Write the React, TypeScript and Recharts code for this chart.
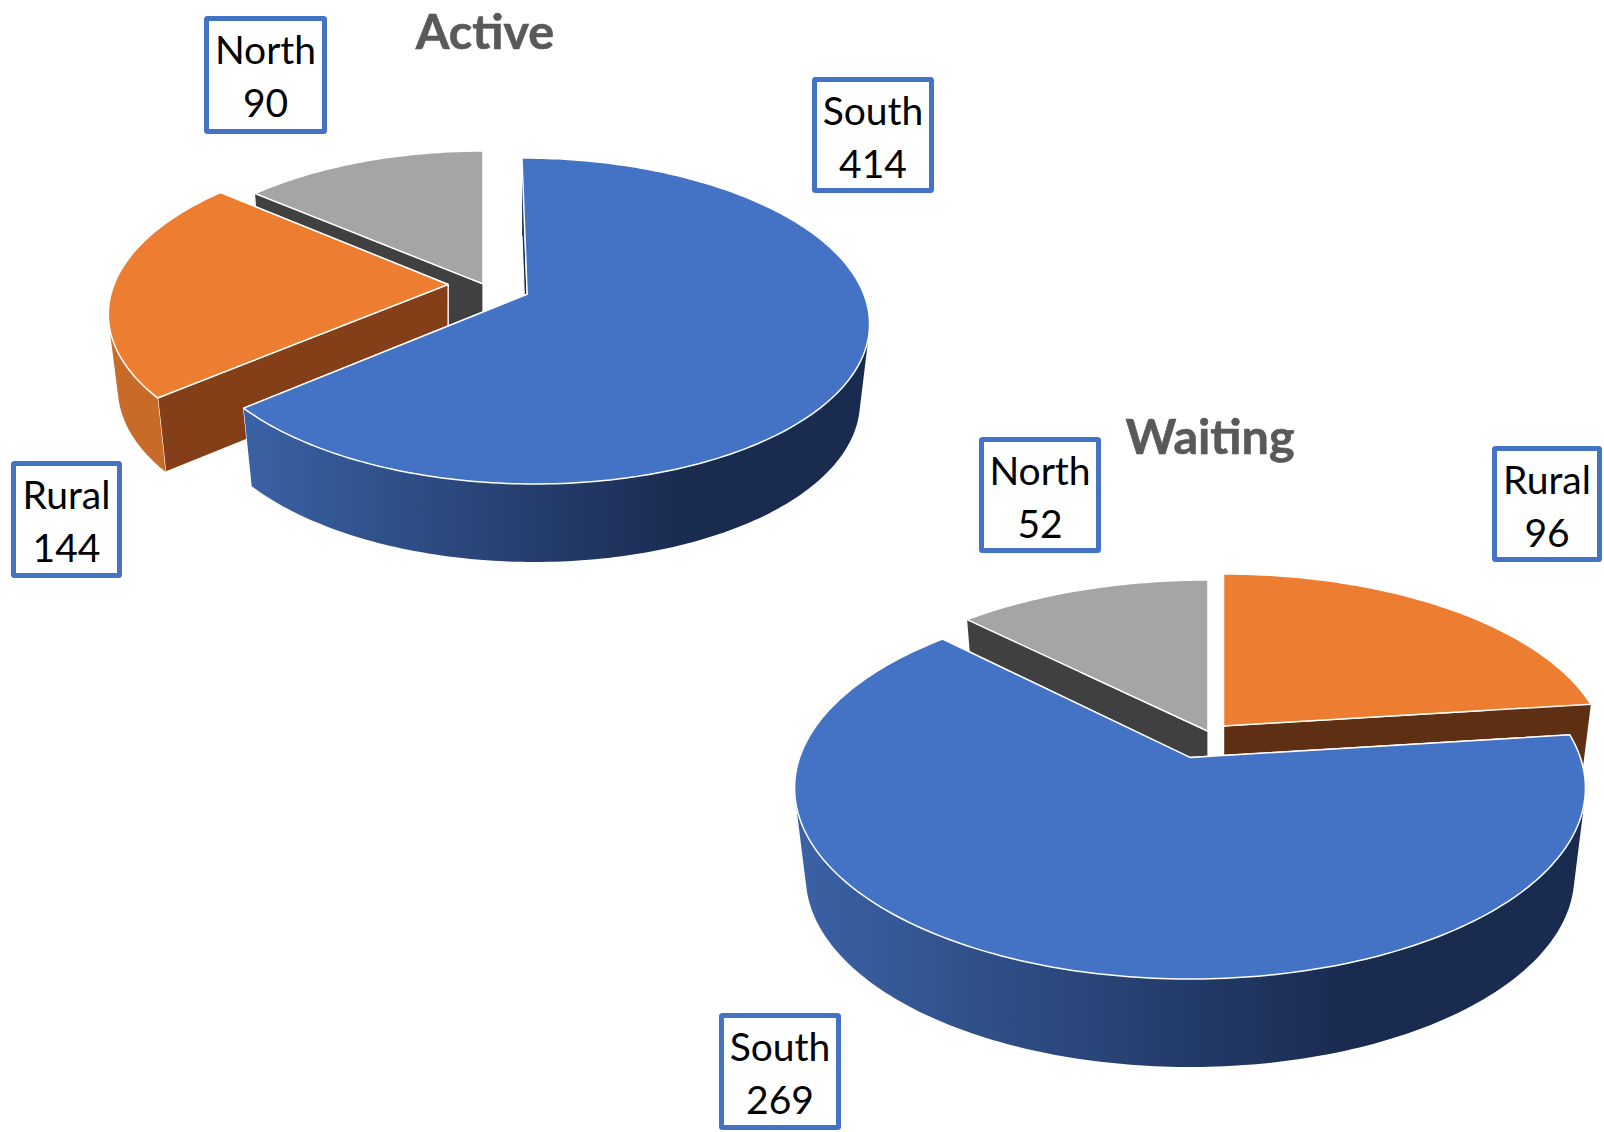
import React from "react";
import { PieChart, Pie } from "recharts";

// Data (ordered so the series drawn last is the one in front)
const activeNames = ["North", "Rural", "South"];
const activeValues = [90, 144, 414];
const waitingNames = ["Rural", "North", "South"];
const waitingValues = [96, 52, 269];

const activeTable = activeNames.map((name, i) => ({ name, value: activeValues[i] }));
const waitingTable = waitingNames.map((name, i) => ({ name, value: waitingValues[i] }));
const waitingTotal = waitingValues.reduce((a, b) => a + b, 0);

const BLUE = "#4472C4";
const FONT = "Lato, Carlito, Calibri, sans-serif";

type Geo = {
  ex: number; ey: number; rx: number; ry: number; vx: number; vy: number;
  depth: number; skew?: number; box: [number, number, number, number];
  wall?: string; rim?: string;
};

const looks: Record<string, { top: string; wall: string; rim: string }> = {
  South: { top: "#4472C4", wall: "#1A2B50", rim: "url(#southWall)" },
  Rural: { top: "#ED7D31", wall: "#843F18", rim: "#C86A28" },
  North: { top: "#A5A5A5", wall: "#404040", rim: "#404040" },
};

const activeGeo: Record<string, Geo> = {
  South: { ex: 528.5, ey: 321, rx: 341, ry: 163, vx: -0.001, vy: -0.164, depth: 78, skew: 0.038, box: [812, 77, 934, 193] },
  Rural: { ex: 446, ey: 311, rx: 337.6, ry: 162, vx: 0.003, vy: -0.164, depth: 74, skew: -0.04, box: [11, 461, 122, 578] },
  North: { ex: 483, ey: 313, rx: 337.6, ry: 162, vx: 0, vy: -0.18, depth: 74, box: [204, 16, 327, 134] },
};
const waitingGeo: Record<string, Geo> = {
  South: { ex: 1190, ey: 788, rx: 395.4, ry: 191, vx: 0, vy: -0.16, depth: 88, box: [719, 1013, 841, 1130] },
  Rural: { ex: 1223.5, ey: 757, rx: 383.6, ry: 183, vx: 0, vy: -0.17, depth: 82, wall: "#5E2F13", rim: "#5E2F13", box: [1492, 446, 1602, 562] },
  North: { ex: 1208, ey: 760, rx: 385, ry: 180, vx: 0, vy: -0.16, depth: 82, box: [979, 437, 1101, 553] },
};

const BOTTOM_SCALE = 0.972;

function project(g: Geo, px: number, py: number, bottom: boolean): [number, number] {
  const vv = g.vx * g.vx + g.vy * g.vy;
  const dot = g.vx * px + g.vy * py;
  const k = vv > 0 ? dot / vv : 0;
  const parX = g.vx * k;
  const parY = g.vy * k;
  const c = Math.sqrt(1 - vv);
  const qx = (g.vx + parX + c * (px - parX)) / (1 + dot);
  const qy = (g.vy + parY + c * (py - parY)) / (1 + dot);
  const s = bottom ? BOTTOM_SCALE : 1;
  return [g.ex + qx * g.rx * s + (g.skew || 0) * qy * g.ry, g.ey + qy * g.ry + (bottom ? g.depth : 0)];
}

function onRim(g: Geo, deg: number, bottom: boolean) {
  const a = (deg * Math.PI) / 180;
  return project(g, Math.cos(a), -Math.sin(a), bottom);
}

const toPath = (pts: [number, number][]) =>
  "M" + pts.map((p) => `${p[0].toFixed(2)},${p[1].toFixed(2)}`).join("L") + "Z";

// Outer wall as a sweep of small quads, so its silhouette joins top and bottom rims
function sweepPath(top: [number, number][], bot: [number, number][]) {
  let d = "";
  for (let i = 0; i < top.length - 1; i++) {
    const quad = [top[i], top[i + 1], bot[i + 1], bot[i]] as [number, number][];
    const area = quad.reduce((s, p, j) => {
      const q = quad[(j + 1) % 4];
      return s + p[0] * q[1] - q[0] * p[1];
    }, 0);
    d += toPath(area >= 0 ? quad : quad.slice().reverse());
  }
  return d;
}

function makeShape(geo: Record<string, Geo>) {
  return function SliceShape(props: any) {
    const name = props.name ?? props.payload?.name;
    const g = geo[name];
    const look = looks[name];
    const wallColor = g.wall || look.wall;
    const rimColor = g.rim || look.rim;
    const { startAngle, endAngle } = props;
    const n = Math.max(8, Math.ceil(Math.abs(endAngle - startAngle)));
    const angles = Array.from({ length: n + 1 }, (_, i) => startAngle + ((endAngle - startAngle) * i) / n);
    const topArc = angles.map((a) => onRim(g, a, false));
    const botArc = angles.map((a) => onRim(g, a, true));
    const tip = project(g, 0, 0, false);
    const tipLow = project(g, 0, 0, true);
    const wallA = [tip, topArc[0], botArc[0], tipLow] as [number, number][];
    const wallB = [tip, topArc[n], botArc[n], tipLow] as [number, number][];
    return (
      <g>
        <path d={toPath(wallA)} fill={wallColor} stroke="#fff" strokeWidth={1.2} strokeLinejoin="round" />
        <path d={toPath(wallB)} fill={wallColor} stroke="#fff" strokeWidth={1.2} strokeLinejoin="round" />
        <path d={sweepPath(topArc, botArc)} fill={rimColor} stroke="none" />
        <path d={toPath([tip, ...topArc])} fill={look.top} stroke="#fff" strokeWidth={1.5} strokeLinejoin="round" />
      </g>
    );
  };
}

function makeLabel(geo: Record<string, Geo>) {
  return function SliceLabel(props: any) {
    const name = props.name ?? props.payload?.name;
    const value = props.value ?? props.payload?.value;
    const [x0, y0, x1, y1] = geo[name].box;
    const mid = (x0 + x1) / 2;
    return (
      <g>
        <rect x={x0 + 2.5} y={y0 + 2.5} width={x1 - x0 - 5} height={y1 - y0 - 5} rx={1} fill="#fff" stroke={BLUE} strokeWidth={5} />
        <text x={mid} y={y0 + 48} textAnchor="middle" fontFamily={FONT} fontSize={39} fill="#000">{name}</text>
        <text x={mid} y={y0 + 101} textAnchor="middle" fontFamily={FONT} fontSize={39} fill="#000">{value}</text>
      </g>
    );
  };
}

export default function App() {
  return (
    <div style={{ position: "absolute", left: 0, top: 0, width: 1604, height: 1132 }}>
      <PieChart width={1604} height={1132} margin={{ top: 0, right: 0, bottom: 0, left: 0 }}>
        <defs>
          <linearGradient id="southWall" x1="0" y1="0" x2="1" y2="0">
            <stop offset="0" stopColor="#3B62A6" />
            <stop offset="0.7" stopColor="#1A2B50" />
            <stop offset="1" stopColor="#1A2B50" />
          </linearGradient>
        </defs>
        <text x={485} y={49} textAnchor="middle" fontFamily={FONT} fontWeight={700} fontSize={48.5} fill="#595959" stroke="#595959" strokeWidth={0.6}>Active</text>
        <text x={1210} y={454} textAnchor="middle" fontFamily={FONT} fontWeight={700} fontSize={48.5} fill="#595959" stroke="#595959" strokeWidth={0.6}>Waiting</text>
        <Pie
          data={activeTable}
          dataKey="value"
          nameKey="name"
          cx={528}
          cy={321}
          outerRadius={341}
          startAngle={90}
          endAngle={450}
          stroke="none"
          isAnimationActive={false}
          shape={makeShape(activeGeo)}
          label={makeLabel(activeGeo)}
          labelLine={false}
        />
        <Pie
          data={waitingTable}
          dataKey="value"
          nameKey="name"
          cx={1190}
          cy={788}
          outerRadius={395}
          startAngle={90 - (360 * waitingValues[0]) / waitingTotal}
          endAngle={450 - (360 * waitingValues[0]) / waitingTotal}
          stroke="none"
          isAnimationActive={false}
          shape={makeShape(waitingGeo)}
          label={makeLabel(waitingGeo)}
          labelLine={false}
        />
      </PieChart>
    </div>
  );
}
